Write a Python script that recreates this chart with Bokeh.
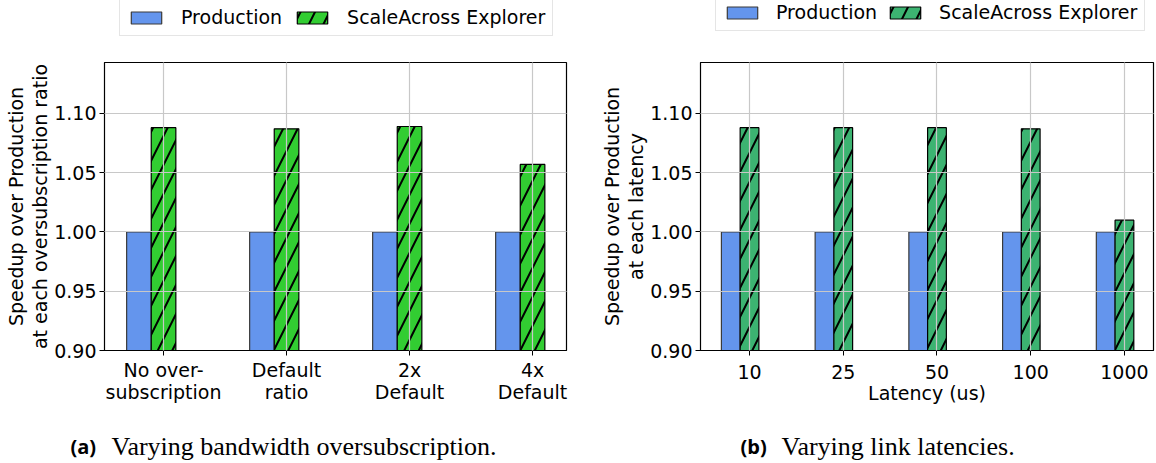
from bokeh.plotting import figure
from bokeh.layouts import row, column
from bokeh.models import (Range1d, FixedTicker, Legend, LegendItem, Label,
                          PrintfTickFormatter, ColumnDataSource)
from bokeh.transform import dodge
from bokeh.embed import file_html
from bokeh.resources import INLINE

# ---------------- data ----------------
# (a) varying bandwidth oversubscription
cats_a = ["No over-\nsubscription", "Default\nratio", "2x\nDefault", "4x\nDefault"]
prod_a = [1.0, 1.0, 1.0, 1.0]
expl_a = [1.088, 1.087, 1.089, 1.057]
# (b) varying link latencies
cats_b = ["10", "25", "50", "100", "1000"]
prod_b = [1.0, 1.0, 1.0, 1.0, 1.0]
expl_b = [1.088, 1.088, 1.088, 1.087, 1.010]

yticks = [0.90, 0.95, 1.00, 1.05, 1.10]
series_names = ["Production", "ScaleAcross Explorer"]
captions = [("(a)", "Varying bandwidth oversubscription."),
            ("(b)", "Varying link latencies.")]

FONT = "DejaVu Sans"
FS = "19px"
BLUE = "#6495ED"
BLUE_EDGE = "#3a3a3a"
GREEN_A = "#32CD32"
GREEN_B = "#3CB371"
HATCH = dict(hatch_pattern="/", hatch_color="black", hatch_weight=2, hatch_scale=29)

W_TOTAL = 1156
H_TOP = 40
H_MAIN = 380
H_CAP = 43


def strip(height):
    s = figure(width=W_TOTAL, height=height, x_range=Range1d(0, 1), y_range=Range1d(0, 1),
               output_backend="svg", toolbar_location=None, min_border=0,
               min_border_left=0, min_border_right=0, min_border_top=0, min_border_bottom=0,
               x_axis_location=None, y_axis_location=None)
    s.grid.visible = False
    s.outline_line_color = None
    s.background_fill_color = "white"
    s.border_fill_color = "white"
    return s


def panel(cats, prod, expl, green, width, xr, borders, ylabel, xlabel, tick_standoff, xlab_standoff):
    bl, br, bt, bb = borders
    xs = list(range(len(cats)))
    src = ColumnDataSource(dict(x=xs, prod=prod, expl=expl))
    p = figure(width=width, height=H_MAIN, x_range=Range1d(*xr), y_range=Range1d(0.9, 1.143),
               output_backend="svg", toolbar_location=None,
               min_border_left=bl, min_border_right=br, min_border_top=bt, min_border_bottom=bb)
    p.vbar(x=dodge("x", -0.2, range=p.x_range), top="prod", bottom=0, width=0.2, source=src,
           fill_color=BLUE, line_color=BLUE_EDGE, line_width=1.2)
    p.vbar(x="x", top="expl", bottom=0, width=0.2, source=src,
           fill_color=green, line_color="black", line_width=1.2, **HATCH)

    p.xaxis.ticker = FixedTicker(ticks=xs)
    p.xaxis.major_label_overrides = {i: c for i, c in enumerate(cats)}
    p.yaxis.ticker = FixedTicker(ticks=yticks)
    p.yaxis.formatter = PrintfTickFormatter(format="%.2f")
    for ax in (p.xaxis[0], p.yaxis[0]):
        ax.major_label_text_font = FONT
        ax.major_label_text_font_size = FS
        ax.major_label_text_color = "black"
        ax.major_label_text_line_height = 1.0
        ax.axis_label_text_font = FONT
        ax.axis_label_text_font_size = FS
        ax.axis_label_text_font_style = "normal"
        ax.axis_label_text_color = "black"
        ax.axis_label_text_line_height = 1.1
        ax.axis_line_color = "black"
        ax.major_tick_line_color = "black"
        ax.major_tick_in = 0
        ax.major_tick_out = 5
        ax.minor_tick_line_color = None
    p.yaxis.major_label_standoff = 3
    p.yaxis.axis_label_standoff = 0
    p.xaxis.major_label_standoff = tick_standoff
    p.xaxis.axis_label_standoff = xlab_standoff
    p.yaxis.axis_label = ylabel
    if xlabel:
        p.xaxis.axis_label = xlabel
    p.xgrid.ticker = FixedTicker(ticks=xs)
    p.ygrid.ticker = FixedTicker(ticks=yticks)
    p.grid.grid_line_color = "#c8c8c8"
    p.grid.grid_line_width = 1.2
    p.grid.level = "overlay"
    p.outline_line_color = "black"
    p.outline_line_width = 1.2
    p.background_fill_color = "white"
    p.border_fill_color = "white"
    return p


pa = panel(cats_a, prod_a, expl_a, GREEN_A, 580, (-0.48, 3.276), (104, 14, 22, 70),
           "Speedup over Production\nat each oversubscription ratio", None, 3, 4)
pb = panel(cats_b, prod_b, expl_b, GREEN_B, 576, (-0.523, 4.31), (120, 3, 19, 68),
           "Speedup over Production\nat each latency", "Latency (us)", 9, 0)

# ---- legend strip (legends sit above each panel) ----
# legend swatches need a drawable glyph: one bar placed outside the strip's visible range
top = strip(H_TOP)
for green, loc, standoff, spacing in ((GREEN_A, (119, 4), 16, 11), (GREEN_B, (715, 9), 15, 9)):
    rp = top.vbar(x="x", top="top", width=0.2, source=ColumnDataSource(dict(x=[-10], top=[-10])),
                  fill_color=BLUE, line_color=BLUE_EDGE, line_width=1.2)
    rx = top.vbar(x="x", top="top", width=0.2, source=ColumnDataSource(dict(x=[-10], top=[-10])),
                  fill_color=green, line_color="black", line_width=1.2, **HATCH)
    lg = Legend(items=[LegendItem(label=series_names[0], renderers=[rp]),
                       LegendItem(label=series_names[1], renderers=[rx])],
                orientation="horizontal", location=loc,
                glyph_width=38, glyph_height=15, label_standoff=standoff, spacing=spacing,
                padding=7, margin=0, label_height=22,
                label_text_font=FONT, label_text_font_size=FS, label_text_color="black",
                border_line_color="#cccccc", border_line_width=1,
                background_fill_color="white", background_fill_alpha=0.8)
    top.add_layout(lg)

# ---- caption strip ----
cap = strip(H_CAP)
for (tag, text), (x, y) in zip(captions, ((70, 17), (740, 17))):
    cap.add_layout(Label(x=x, y=y, x_units="screen", y_units="screen", text=tag,
                         text_font="Open Sans", text_font_style="bold", text_font_size="20px",
                         text_color="black", text_baseline="alphabetic"))
    cap.add_layout(Label(x=x + 41, y=y, x_units="screen", y_units="screen", text=text,
                         text_font="Liberation Serif", text_font_size="26px",
                         text_color="black", text_baseline="alphabetic"))

layout = column(top, row(pa, pb, spacing=0), cap, spacing=0)
open("out.html", "w").write(file_html(layout, INLINE))
